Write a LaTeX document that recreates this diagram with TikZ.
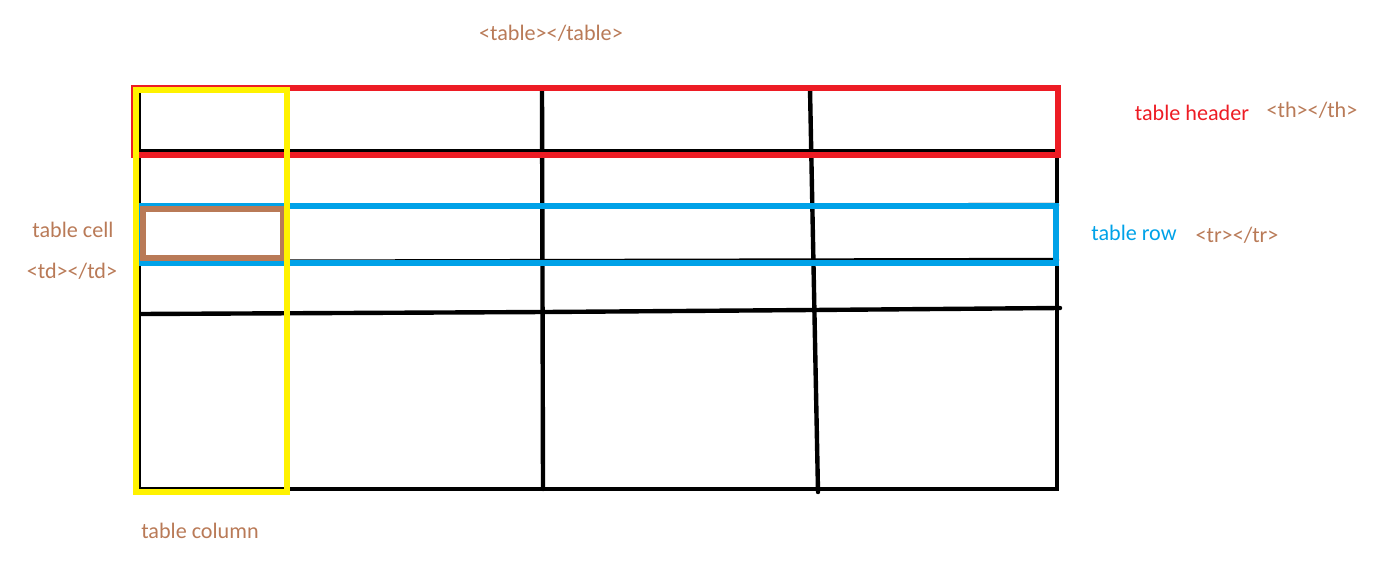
\documentclass[tikz,border=0pt]{standalone}
\usepackage{fontspec}
\setmainfont{Carlito}
\definecolor{paintred}{HTML}{ED1C24}
\definecolor{paintyellow}{HTML}{FFF200}
\definecolor{paintblue}{HTML}{00A2E8}
\definecolor{paintbrown}{HTML}{B97A57}

\begin{document}
\begin{tikzpicture}[x=0.02cm, y=-0.02cm,
      grid/.style = {draw=black, line width=2.5pt, line cap=round},
      frame/.style = {line width=3pt},
      tag/.style = {font=\fontsize{12.6}{15}\selectfont, inner sep=0pt,
        text=paintbrown}]
  \useasboundingbox (0,0) rectangle (1385,561);
  % table grid
  \draw[grid] (139,89) rectangle (1057,489);
  \draw[grid] (139,151) -- (1057,151);
  \draw[grid] (139,207) -- (1057,205);
  \draw[grid] (139,262) -- (1057,260);
  \draw[grid] (139,314) -- (545,312) -- (812,310) -- (1060,308);
  \draw[grid] (287,89) -- (287,489);
  \draw[grid] (542,89) -- (543,489);
  \draw[grid] (810,89) -- (818,492);
  % highlighted parts
  \draw[frame, paintred] (134,88) rectangle (1058,155);
  \draw[frame, paintblue] (139,206) rectangle (1056,263);
  \draw[frame, paintbrown] (143,209) rectangle (283,258);
  \draw[frame, paintyellow] (136,90) rectangle (287,492);
  % labels
  \node[tag] (table) at (551,33) {<table></table>};
  \node[tag, text=paintred] (header) at (1192,113) {table header};
  \node[tag] (th) at (1312,110) {<th></th>};
  \node[tag, text=paintblue] (row) at (1134,233) {table row};
  \node[tag] (tr) at (1237,235) {<tr></tr>};
  \node[tag] (cell) at (73,230) {table cell};
  \node[tag] (td) at (72,271) {<td></td>};
  \node[tag] (column) at (200,531) {table column};
\end{tikzpicture}
\end{document}
